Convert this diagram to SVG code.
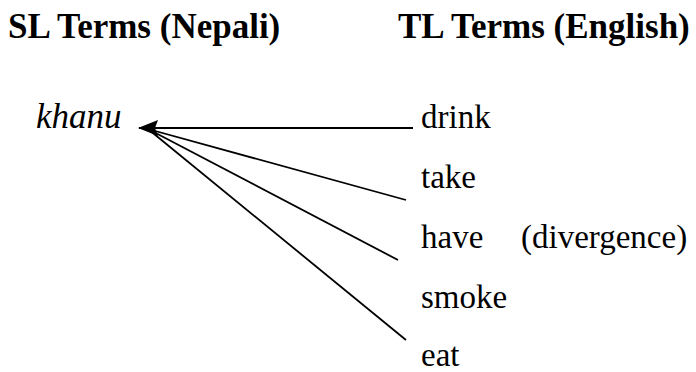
<svg xmlns="http://www.w3.org/2000/svg" width="696" height="372" viewBox="0 0 696 372">
<style>
text{font-family:'Liberation Serif','Times New Roman',serif;fill:#000}
.hdr{font-weight:bold;font-size:35px}
.term{font-size:33px}
.sl{font-style:italic;font-size:35px}
.conn{stroke:#000;stroke-width:1.8;fill:none}
</style>
<defs>
<marker id="arrow" markerUnits="userSpaceOnUse" markerWidth="24" markerHeight="20" refX="1" refY="10" orient="auto" viewBox="0 0 24 20">
<path d="M0,10 L20,2 L17,10 L20,18 Z" fill="#000"/>
</marker>
</defs>
<rect width="696" height="372" fill="#fff"/>
<g id="header-sl"><text class="hdr" x="8" y="38">SL Terms (Nepali)</text></g>
<g id="header-tl"><text class="hdr" x="398" y="38">TL Terms (English)</text></g>
<g id="connectors">
<line class="conn" x1="139" y1="128" x2="413" y2="128" marker-start="url(#arrow)"/>
<line class="conn" x1="148" y1="129" x2="406" y2="200"/>
<line class="conn" x1="148" y1="129" x2="398" y2="260"/>
<line class="conn" x1="148" y1="129" x2="406" y2="340"/>
</g>
<g id="node-khanu"><text class="sl" x="36" y="127.5">khanu</text></g>
<g id="node-drink"><text class="term" x="421" y="127.5">drink</text></g>
<g id="node-take"><text class="term" x="421" y="187.5">take</text></g>
<g id="node-have"><text class="term" x="421" y="247.5">have</text><text class="term" x="521" y="247.5">(divergence)</text></g>
<g id="node-smoke"><text class="term" x="421" y="307.5">smoke</text></g>
<g id="node-eat"><text class="term" x="421" y="366">eat</text></g>
</svg>
